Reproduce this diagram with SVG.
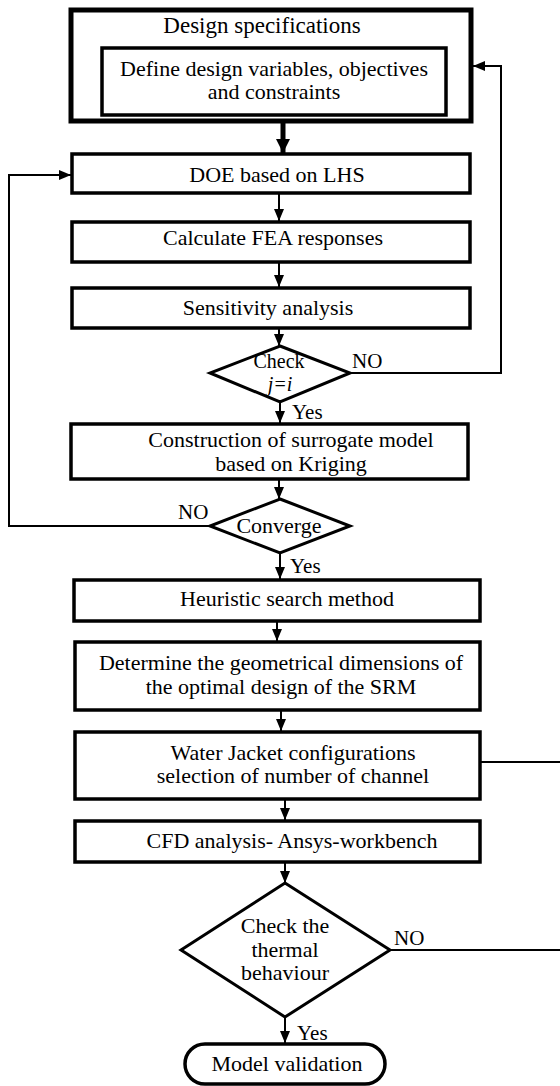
<svg xmlns="http://www.w3.org/2000/svg" width="560" height="1086" viewBox="0 0 560 1086">
<style>
text { font-family: "Liberation Serif", "Times New Roman", serif; font-size: 22px; fill: #000; }
.c { text-anchor: middle; }
.lbl { font-size: 21px; }
.box { fill: #fff; stroke: #000; stroke-width: 3.5; }
.dec { fill: #fff; stroke: #000; stroke-width: 3; stroke-linejoin: miter; }
.ln { fill: none; stroke: #000; stroke-width: 2; }
</style>
<defs>
<marker id="ah" markerUnits="userSpaceOnUse" markerWidth="12" markerHeight="12" viewBox="0 0 12 12" refX="12" refY="6" orient="auto"><path d="M0,1 L12,6 L0,11 z" fill="#000"/></marker>
<marker id="ahb" markerUnits="userSpaceOnUse" markerWidth="16" markerHeight="16" viewBox="0 0 16 16" refX="14" refY="8" orient="auto"><path d="M0,1 L14,8 L0,15 z" fill="#000"/></marker>
</defs>

<g id="connectors">
<line x1="283" y1="121" x2="283" y2="153" stroke="#000" stroke-width="5" marker-end="url(#ahb)"/>
<line class="ln" x1="279" y1="193" x2="279" y2="221" marker-end="url(#ah)"/>
<line class="ln" x1="279" y1="262" x2="279" y2="287" marker-end="url(#ah)"/>
<line class="ln" x1="279" y1="328" x2="279" y2="346" marker-end="url(#ah)"/>
<line class="ln" x1="280" y1="402" x2="280" y2="423" marker-end="url(#ah)"/>
<line class="ln" x1="279" y1="479" x2="279" y2="499" marker-end="url(#ah)"/>
<line class="ln" x1="280" y1="553" x2="280" y2="579" marker-end="url(#ah)"/>
<line class="ln" x1="277" y1="621" x2="277" y2="641" marker-end="url(#ah)"/>
<line class="ln" x1="281" y1="710" x2="281" y2="731" marker-end="url(#ah)"/>
<line class="ln" x1="285" y1="799" x2="285" y2="820" marker-end="url(#ah)"/>
<line class="ln" x1="285" y1="862" x2="285" y2="883" marker-end="url(#ah)"/>
<line class="ln" x1="285" y1="1017" x2="285" y2="1043" marker-end="url(#ah)"/>
<polyline class="ln" points="350,373 501,373 501,66 473,66" marker-end="url(#ah)"/>
<polyline class="ln" points="210,526 9,526 9,175 71,175" marker-end="url(#ah)"/>
<line class="ln" x1="480" y1="762" x2="560" y2="762"/>
<line class="ln" x1="390" y1="950" x2="560" y2="950"/>
<text class="lbl" x="352" y="368">NO</text>
<text class="lbl" x="292" y="419">Yes</text>
<text class="lbl" x="178" y="519">NO</text>
<text class="lbl" x="290" y="573">Yes</text>
<text class="lbl" x="394" y="945">NO</text>
<text class="lbl" x="297" y="1040">Yes</text>
</g>

<g id="spec">
<rect x="71" y="10" width="400" height="111" fill="#fff" stroke="#000" stroke-width="5"/>
<text class="c" x="262" y="33" style="font-size:23px">Design specifications</text>
</g>
<g id="define">
<rect class="box" x="102" y="48" width="344" height="67"/>
<text class="c" x="274" y="76">Define design variables, objectives</text>
<text class="c" x="274" y="99">and constraints</text>
</g>
<g id="doe">
<rect class="box" x="72" y="154" width="398" height="39"/>
<text class="c" x="277" y="182">DOE based on LHS</text>
</g>
<g id="fea">
<rect class="box" x="72" y="222" width="398" height="40"/>
<text class="c" x="273" y="245">Calculate FEA responses</text>
</g>
<g id="sensitivity">
<rect class="box" x="72" y="288" width="398" height="40"/>
<text class="c" x="268" y="315">Sensitivity analysis</text>
</g>
<g id="check1">
<polygon class="dec" points="280,346 350,373 280,402 210,373"/>
<text class="c" x="279" y="368" style="font-size:20px">Check</text>
<text class="c" x="280" y="391" style="font-size:20px;font-style:italic">j=i</text>
</g>
<g id="surrogate">
<rect class="box" x="71" y="424" width="397" height="55"/>
<text class="c" x="291" y="447">Construction of surrogate model</text>
<text class="c" x="291" y="471">based on Kriging</text>
</g>
<g id="converge">
<polygon class="dec" points="280,499 350,526 280,553 210,526"/>
<text class="c" x="279" y="533">Converge</text>
</g>
<g id="heuristic">
<rect class="box" x="74" y="580" width="406" height="41"/>
<text class="c" x="287" y="606">Heuristic search method</text>
</g>
<g id="determine">
<rect class="box" x="75" y="642" width="405" height="68"/>
<text class="c" x="281" y="670">Determine the geometrical dimensions of</text>
<text class="c" x="281" y="694">the optimal design of the SRM</text>
</g>
<g id="waterjacket">
<rect class="box" x="75" y="732" width="405" height="67"/>
<text class="c" x="293" y="760">Water Jacket configurations</text>
<text class="c" x="293" y="783">selection of number of channel</text>
</g>
<g id="cfd">
<rect class="box" x="75" y="821" width="405" height="41"/>
<text class="c" x="292" y="848">CFD analysis- Ansys-workbench</text>
</g>
<g id="thermal">
<polygon class="dec" points="285,883 390,950 285,1017 181,950"/>
<text class="c" x="285" y="933">Check the</text>
<text class="c" x="285" y="957">thermal</text>
<text class="c" x="285" y="980">behaviour</text>
</g>
<g id="validation">
<rect class="box" x="185" y="1044" width="200" height="40" rx="20" ry="20"/>
<text class="c" x="287" y="1071">Model validation</text>
</g>
</svg>
